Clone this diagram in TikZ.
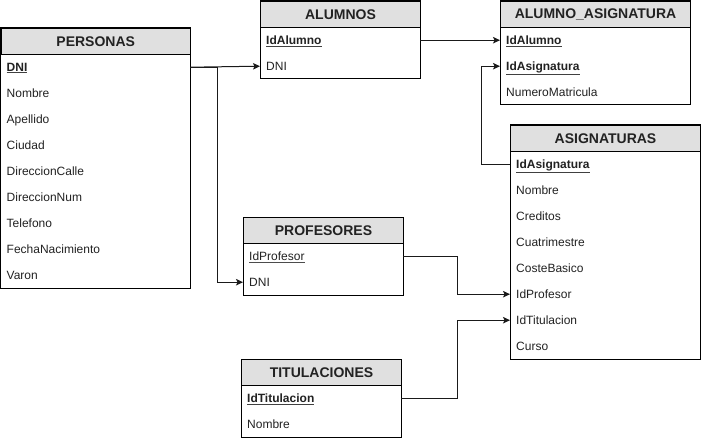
\documentclass[tikz,border=0pt]{standalone}
\usepackage{fontspec}
\setmainfont{Liberation Sans}
\usetikzlibrary{arrows.meta,calc}
\definecolor{hdrgray}{HTML}{E0E0E0}
\definecolor{txt}{HTML}{222222}
\definecolor{linec}{HTML}{1A1A1A}
\tikzset{
  hdr/.style={draw=black, line width=1pt, fill=hdrgray, minimum height=26pt, inner sep=0pt, anchor=north west,
    font=\bfseries\fontsize{14}{16}\selectfont, text=txt},
  fld/.style={anchor=north west, minimum height=26pt, inner xsep=6pt, inner ysep=0pt, align=left,
    text height=9pt, text depth=1pt,
    font=\fontsize{12}{14}\selectfont, text=txt},
  frame/.style={draw=black, line width=1pt},
  link/.style={draw=linec, line width=1pt, -{Stealth[length=7pt,width=6.5pt,inset=1.5pt]}},
}
\newcommand\ertab[6]{% name, x, y, width, title, rows
  \draw[frame, fill=white] (#2,#3) rectangle ++(#4,26+#6*26);
  \node[hdr, minimum width=#4pt] (#1) at (#2,#3) {#5};
}
\newcommand\errow[6]{% name, x, y of table, width, index, text
  \node[fld, minimum width=#4pt, text width=#4pt-12pt] (#1) at (#2,#3+26+#5*26-26) {#6};
}
\newcommand\pk[1]{\textbf{\color{black!75}\underline{\color{txt}#1}}}
\newcommand\pkl[1]{{\color{black!70}\underline{\color{txt}#1}}}
\begin{document}
\begin{tikzpicture}[x=1pt,y=-1pt]
\useasboundingbox (0,0) rectangle (701,441);

% PERSONAS
\ertab{per}{0.5}{28}{189.5}{PERSONAS}{9}
\errow{perDNI}{0.5}{28}{189.5}{1}{\pk{DNI}}
\errow{perNom}{0.5}{28}{189.5}{2}{Nombre}
\errow{perApe}{0.5}{28}{189.5}{3}{Apellido}
\errow{perCiu}{0.5}{28}{189.5}{4}{Ciudad}
\errow{perDC}{0.5}{28}{189.5}{5}{DireccionCalle}
\errow{perDN}{0.5}{28}{189.5}{6}{DireccionNum}
\errow{perTel}{0.5}{28}{189.5}{7}{Telefono}
\errow{perFN}{0.5}{28}{189.5}{8}{FechaNacimiento}
\errow{perVar}{0.5}{28}{189.5}{9}{Varon}

% ALUMNOS
\ertab{alu}{260}{1}{160}{ALUMNOS}{2}
\errow{aluId}{260}{1}{160}{1}{\pk{IdAlumno}}
\errow{aluDNI}{260}{1}{160}{2}{DNI}

% ALUMNO_ASIGNATURA
\ertab{aa}{500}{1}{190}{ALUMNO\_ASIGNATURA}{3}
\errow{aaId}{500}{1}{190}{1}{\pk{IdAlumno}}
\errow{aaAsig}{500}{1}{190}{2}{\pk{IdAsignatura}}
\errow{aaNum}{500}{1}{190}{3}{NumeroMatricula}

% ASIGNATURAS
\ertab{asi}{510}{125}{190}{ASIGNATURAS}{8}
\errow{asiId}{510}{125}{190}{1}{\pk{IdAsignatura}}
\errow{asiNom}{510}{125}{190}{2}{Nombre}
\errow{asiCre}{510}{125}{190}{3}{Creditos}
\errow{asiCua}{510}{125}{190}{4}{Cuatrimestre}
\errow{asiCos}{510}{125}{190}{5}{CosteBasico}
\errow{asiProf}{510}{125}{190}{6}{IdProfesor}
\errow{asiTit}{510}{125}{190}{7}{IdTitulacion}
\errow{asiCur}{510}{125}{190}{8}{Curso}

% PROFESORES
\ertab{pro}{243}{217}{160}{PROFESORES}{2}
\errow{proId}{243}{217}{160}{1}{\pkl{IdProfesor}}
\errow{proDNI}{243}{217}{160}{2}{DNI}

% TITULACIONES
\ertab{tit}{241}{359}{160}{TITULACIONES}{2}
\errow{titId}{241}{359}{160}{1}{\pk{IdTitulacion}}
\errow{titNom}{241}{359}{160}{2}{Nombre}

% connectors
\draw[link] (perDNI.east) -- (aluDNI.west);
\draw[link] (perDNI.east) -- ++(27,0) |- (proDNI.west);
\draw[link] (aluId.east) -- (aaId.west);
\draw[link] (asiId.west) -- ++(-29,0) |- (aaAsig.west);
\draw[link] (proId.east) -- ++(54,0) |- (asiProf.west);
\draw[link] (titId.east) -- ++(56,0) |- (asiTit.west);
\end{tikzpicture}
\end{document}
